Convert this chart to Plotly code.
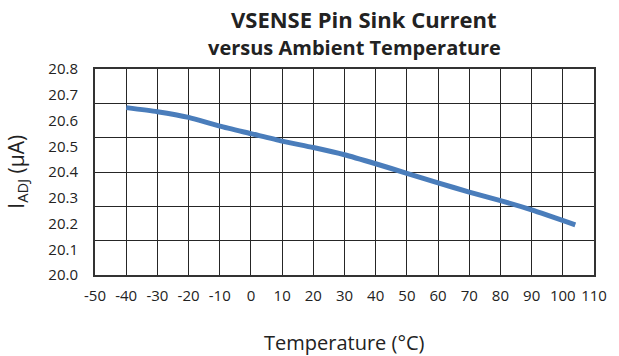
import plotly.graph_objects as go

# ---- data ----
temperature_c = [-40, -30, -20, -10, 0, 10, 20, 30, 40, 50, 60, 70, 80, 90, 104]
i_adj_ua = [20.650, 20.634, 20.612, 20.578, 20.549, 20.520, 20.495, 20.467,
            20.432, 20.395, 20.358, 20.322, 20.289, 20.253, 20.195]

x_tick_vals = [-50, -40, -30, -20, -10, 0, 10, 20, 30, 40, 50, 60, 70, 80, 90, 100, 110]
x_tick_text = ["-50", "-40", "-30", "-20", "-10", "0", "10", "20", "30", "40",
               "50", "60", "70", "80", "90", "100", "110"]
y_tick_vals = [20.0, 20.1, 20.2, 20.3, 20.4, 20.5, 20.6, 20.7, 20.8]
y_tick_text = ["20.0", "20.1", "20.2", "20.3", "20.4", "20.5", "20.6", "20.7", "20.8"]
grid_divisions = 6  # horizontal grid divisions drawn in the original

title_line1 = "VSENSE Pin Sink Current"
title_line2 = "versus Ambient Temperature"
x_title = "Temperature (°C)"
y_title = "I<sub>ADJ</sub> (µA)"

FONT = "Open Sans"
LINE_COLOR = "#4a7dbb"
GRID_COLOR = "#262626"
BORDER_COLOR = "#333333"

fig = go.Figure()

# invisible helper trace so the grid-only axis is created
fig.add_trace(go.Scatter(x=[None], y=[None], yaxis="y2", showlegend=False,
                         hoverinfo="skip", mode="lines"))

fig.add_trace(go.Scatter(
    x=temperature_c, y=i_adj_ua, mode="lines",
    line=dict(color=LINE_COLOR, width=5, shape="spline", smoothing=0.6),
    showlegend=False,
))

fig.update_layout(
    width=619, height=356,
    margin=dict(l=95, r=22, t=69, b=81),
    paper_bgcolor="white", plot_bgcolor="white",
    font=dict(family=FONT, color="#222222"),
    xaxis=dict(
        range=[-50, 110], tickmode="array", tickvals=x_tick_vals, ticktext=x_tick_text,
        showgrid=True, gridcolor=GRID_COLOR, gridwidth=1.3,
        showline=True, mirror=True, linecolor=BORDER_COLOR, linewidth=2,
        zeroline=False, ticks="", ticklabelstandoff=6,
        tickfont=dict(family=FONT, size=15, color="#222222"),
    ),
    yaxis=dict(
        range=[20.0, 20.8], tickmode="array", tickvals=y_tick_vals, ticktext=y_tick_text,
        showgrid=False, showline=True, mirror=True, linecolor=BORDER_COLOR, linewidth=2,
        zeroline=False, ticks="", ticklabelstandoff=12,
        tickfont=dict(family=FONT, size=15, color="#222222"),
    ),
    yaxis2=dict(
        overlaying="y", range=[0, grid_divisions], dtick=1, tick0=0,
        showgrid=True, gridcolor=GRID_COLOR, gridwidth=1.3,
        showticklabels=False, showline=False, zeroline=False, ticks="",
    ),
    annotations=[
        dict(text="<b>" + title_line1 + "</b>", xref="paper", yref="paper",
             x=0.54, y=1.245, xanchor="center", yanchor="middle", showarrow=False,
             font=dict(family=FONT, size=22, color="#222222")),
        dict(text="<b>" + title_line2 + "</b>", xref="paper", yref="paper",
             x=0.52, y=1.104, xanchor="center", yanchor="middle", showarrow=False,
             font=dict(family=FONT, size=20, color="#222222")),
        dict(text=x_title, xref="paper", yref="paper",
             x=0.5, y=-0.33, xanchor="center", yanchor="middle", showarrow=False,
             font=dict(family=FONT, size=20, color="#222222")),
        dict(text=y_title, xref="paper", yref="paper", textangle=-90,
             x=-0.157, y=0.5, xanchor="center", yanchor="middle", showarrow=False,
             font=dict(family=FONT, size=21, color="#222222")),
    ],
)

fig.write_html("out.html")
